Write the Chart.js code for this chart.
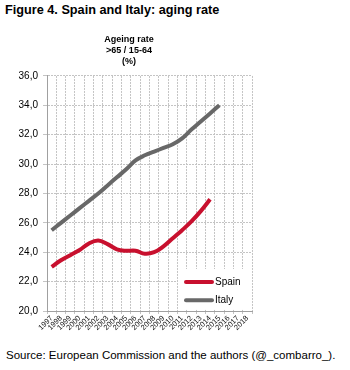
<!DOCTYPE html>
<html>
<head>
<meta charset="utf-8">
<script src="https://cdn.jsdelivr.net/npm/chart.js@4.4.1/dist/chart.umd.min.js"></script>
<style>
  body { margin: 0; background: #fff; width: 350px; height: 370px; position: relative; overflow: hidden; font-family: "Liberation Sans", Arial, sans-serif; color: #000; }
  #fig { position: absolute; left: 5px; top: 3px; font-weight: bold; font-size: 12.7px; white-space: nowrap; }
  #box { position: absolute; left: 0; top: 28px; width: 258px; height: 312px; }
  #src { position: absolute; left: 6px; top: 349px; font-size: 11.5px; white-space: nowrap; }
</style>
</head>
<body>
<div id="fig">Figure 4. Spain and Italy: aging rate</div>
<div id="box"><canvas id="chart"></canvas></div>
<div id="src">Source: European Commission and the authors (@_combarro_).</div>
<script>
const years = ["1997", "1998", "1999", "2000", "2001", "2002", "2003", "2004", "2005", "2006", "2007",
  "2008", "2009", "2010", "2011", "2012", "2013", "2014", "2015", "2016", "2017", "2018"];
const spain = [23.0, 23.45, 23.8, 24.15, 24.6, 24.8, 24.55, 24.2, 24.1, 24.1, 23.9,
  24.0, 24.4, 24.95, 25.5, 26.1, 26.8, 27.6, null, null, null, null];
const italy = [25.5, 26.0, 26.5, 27.0, 27.5, 28.0, 28.55, 29.1, 29.65, 30.25, 30.6,
  30.85, 31.1, 31.35, 31.75, 32.35, 32.9, 33.45, 34.0, null, null, null];
const titleLines = ["Ageing rate", ">65 / 15-64", "(%)"];
const yMin = 20, yMax = 36, yStep = 2;

const FONT = "'Liberation Sans', Arial, sans-serif";

// legend drawn inside the plot, bottom right, on a white patch
const boxLegend = {
  id: "boxLegend",
  afterDraw(chart) {
    const { ctx, chartArea } = chart;
    const r = chartArea.right, b = chartArea.bottom;
    ctx.save();
    ctx.fillStyle = "#fff";
    ctx.fillRect(r - 74, b - 42, 73, 40);
    chart.data.datasets.forEach((ds, i) => {
      const y = b - 29 + i * 18.3;
      ctx.strokeStyle = ds.borderColor;
      ctx.lineWidth = 4;
      ctx.lineCap = "round";
      ctx.beginPath();
      ctx.moveTo(r - 66, y);
      ctx.lineTo(r - 40, y);
      ctx.stroke();
      ctx.fillStyle = "#000";
      ctx.font = "10px " + FONT;
      ctx.textBaseline = "middle";
      ctx.fillText(ds.label, r - 37, y);
    });
    ctx.restore();
  }
};

new Chart(document.getElementById("chart"), {
  type: "line",
  data: {
    labels: years,
    datasets: [
      { label: "Spain", data: spain, borderColor: "#c8102e", borderWidth: 4, pointRadius: 0, tension: 0.4, fill: false },
      { label: "Italy", data: italy, borderColor: "#686868", borderWidth: 4, pointRadius: 0, tension: 0.4, fill: false }
    ]
  },
  options: {
    responsive: true,
    maintainAspectRatio: false,
    animation: false,
    layout: { padding: { left: 6, right: 6, top: 0, bottom: 0 } },
    plugins: {
      legend: { display: false },
      tooltip: { enabled: false },
      title: {
        display: true,
        text: titleLines,
        color: "#000",
        font: { family: FONT, size: 9, weight: "bold", lineHeight: 1.22 },
        padding: { top: 6, bottom: 9 }
      }
    },
    scales: {
      x: {
        offset: true,
        grid: { offset: true, color: "#c4c4c4", tickLength: 3 },
        border: { color: "#a0a0a0", dash: [2, 1] },
        ticks: {
          autoSkip: false, maxRotation: 45, minRotation: 45, padding: 0,
          color: "#111", font: { family: FONT, size: 7.5 }
        },
        afterFit(s) { s.height = 29; }
      },
      y: {
        min: yMin,
        max: yMax,
        grid: { color: "#c4c4c4", tickLength: 4 },
        border: { color: "#a0a0a0", dash: [2, 1] },
        ticks: {
          stepSize: yStep, padding: 5, color: "#000",
          font: { family: FONT, size: 10 },
          callback: (v) => v.toFixed(1).replace(".", ",")
        },
        afterFit(s) { s.width = 41; }
      }
    }
  },
  plugins: [boxLegend]
});
</script>
</body>
</html>
